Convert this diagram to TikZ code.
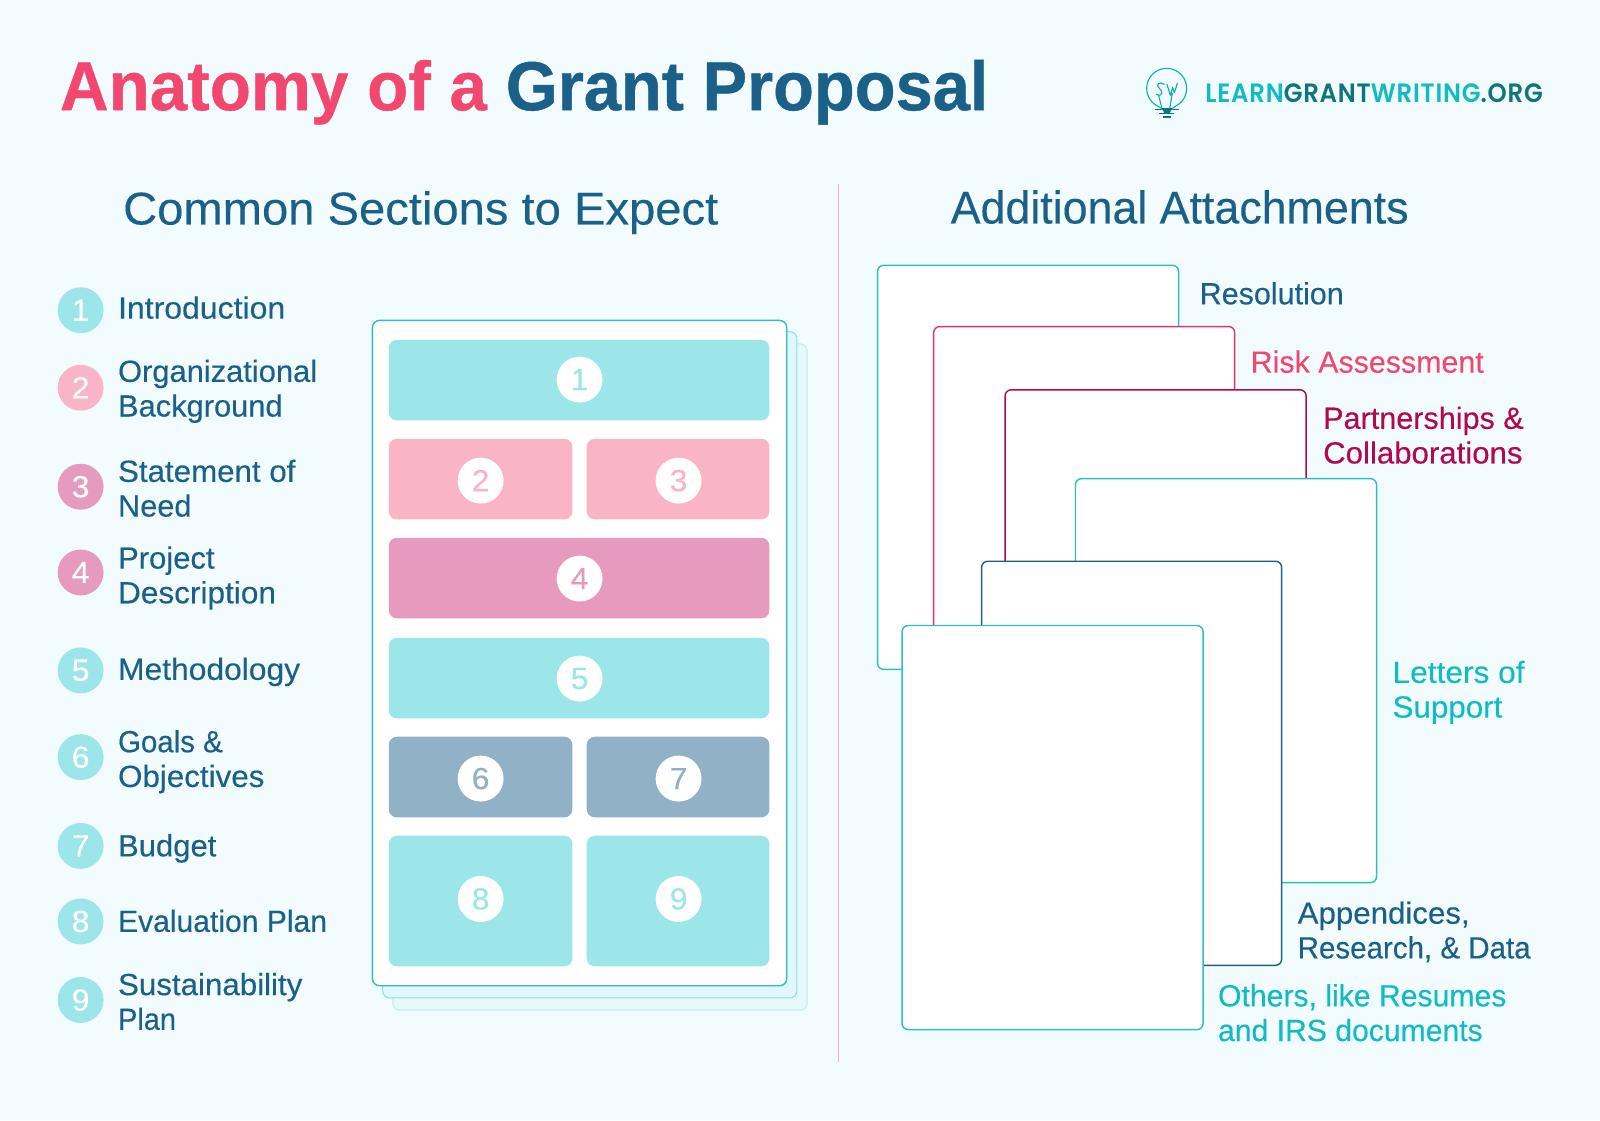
\documentclass[tikz,border=0pt]{standalone}
\usepackage{graphicx}
\usepackage{fontspec}
\setmainfont[FakeStretch=1.045,FakeBold=0.25]{Liberation Sans}
\newfontfamily\titlefont[FakeBold=0.6]{Liberation Sans Bold}
\newfontfamily\logofont[LetterSpace=3,FakeStretch=0.92]{Poppins SemiBold}
\definecolor{bgc}{HTML}{F2FCFE}
\definecolor{ink}{HTML}{1A6088}
\definecolor{rose}{HTML}{F2486F}
\definecolor{wine}{HTML}{B2084F}
\definecolor{aqua}{HTML}{12BBC4}
\definecolor{logodark}{HTML}{0E7480}
\definecolor{bteal}{HTML}{9CE6EA}
\definecolor{bpink}{HTML}{F9B4C6}
\definecolor{bmauve}{HTML}{E59ABE}
\definecolor{bgrey}{HTML}{91B2C6}
\definecolor{sheetline}{HTML}{2BBFC4}
\definecolor{divpink}{HTML}{F6AECB}
\tikzset{
  x=1pt,y=-1pt,
  numdisc/.style={circle,minimum size=45pt,inner sep=0pt,font=\fontsize{30}{34}\selectfont},
  sheet/.style={fill=white,rounded corners=6pt,line width=1.4pt},
  lab/.style={anchor=north west,inner sep=0pt,align=left,font=\fontsize{30}{34}\selectfont},
  head/.style={inner sep=0pt,anchor=base west,font=\fontsize{45}{50}\selectfont,text=ink},
  ttl/.style={inner sep=0pt,anchor=base west,font=\titlefont\fontsize{68}{72}\selectfont},
  logoline/.style={aqua!80!logodark,line width=1.1pt,line cap=round,line join=round},
}
\newcommand{\sx}[2]{\scalebox{#1}[1]{#2}}
\newcommand{\lbl}[5]{\node[lab,text=#4] (#1) at (#2-0.5,#3-31) {\rule{0pt}{30pt}#5};}
\newcommand{\blk}[6]{\fill[#6,rounded corners=8pt] (#2,#3) rectangle (#4,#5) coordinate[pos=.5] (#1);}
\begin{document}
\begin{tikzpicture}
\useasboundingbox (0,0) rectangle (1568,1097.6);
\fill[bgc] (0,0) rectangle (1568,1097.6);
% title
\node[ttl,text=rose] (title1) at (58.5,108) {\sx{0.972}{Anatomy of a}};
\node[ttl,text=ink] (title2) at (495.5,108) {\sx{0.963}{Grant Proposal}};
% logo
\begin{scope}[shift={(1097.6,39.2)},x=0.3267pt,y=-0.3267pt]
  \draw[logoline] (126,206) -- (114.6,199.4) arc[start angle=115,end angle=425,radius=60] -- (156,206);
  \draw[logoline] (133,133) .. controls (120,122) and (104,134) .. (118,145) .. controls (132,154) and (126,172) .. (109,163);
  \draw[logoline] (116,166) -- (126,206) (141,133) -- (151,166) -- (158,142) -- (163,158) -- (172,130) (157,160) -- (149,206);
  \fill[logodark] (126,204) -- (156,204) -- (149,221) -- (133,221) -- cycle;
  \draw[logodark,line width=1.1pt] (106,208) -- (176,208) (118,221) -- (162,221) (128,231) -- (152,231);
\end{scope}
\node[inner sep=0pt,anchor=base west,font=\logofont\fontsize{26}{28}\selectfont] (logo) at (1181,100)
  {\textcolor{aqua}{LEARN}\textcolor{logodark}{GRANT}\textcolor{aqua}{WRITING}\textcolor{logodark}{.ORG}};
% headings and divider
\node[head] (hleft) at (120.5,220) {\sx{0.983}{Common Sections to Expect}};
\node[head] (hright) at (931.5,219) {\sx{0.933}{Additional Attachments}};
\coordinate (divtop) at (821.7,180);
\coordinate (divbot) at (821.7,1041);
\draw[draw=divpink,line width=1.3pt] (divtop) -- (divbot);
% list
\node[numdisc,fill=bteal,text=white] (c1) at (79,304) {1};
\node[numdisc,fill=bpink,text=white] (c2) at (79,380) {2};
\node[numdisc,fill=bmauve,text=white] (c3) at (79,477) {3};
\node[numdisc,fill=bmauve,text=white] (c4) at (79,561) {4};
\node[numdisc,fill=bteal,text=white] (c5) at (79,657) {5};
\node[numdisc,fill=bteal,text=white] (c6) at (79,742) {6};
\node[numdisc,fill=bteal,text=white] (c7) at (79,829) {7};
\node[numdisc,fill=bteal,text=white] (c8) at (79,903) {8};
\node[numdisc,fill=bteal,text=white] (c9) at (79,980) {9};
\lbl{t1}{116}{313}{ink}{Introduction}
\lbl{t2}{116}{375}{ink}{\sx{.965}{Organizational}\\\sx{.964}{Background}}
\lbl{t3}{116}{473}{ink}{\sx{.978}{Statement of}\\\sx{.96}{Need}}
\lbl{t4}{116}{558}{ink}{\sx{.97}{Project}\\\sx{.987}{Description}}
\lbl{t5}{116}{667}{ink}{\sx{.994}{Methodology}}
\lbl{t6}{116}{738}{ink}{\sx{.92}{Goals \&}\\\sx{.98}{Objectives}}
\lbl{t7}{116}{840}{ink}{\sx{.97}{Budget}}
\lbl{t8}{116}{914}{ink}{\sx{.94}{Evaluation Plan}}
\lbl{t9}{116}{976}{ink}{\sx{.978}{Sustainability}\\\sx{.905}{Plan}}
% page stack
\draw[draw=sheetline!25!bgc,fill=bteal!15!bgc,rounded corners=7pt,line width=1pt] (385,337) rectangle (791,990);
\draw[draw=sheetline!50!bgc,fill=bteal!20!bgc,rounded corners=7pt,line width=1pt] (375,325) rectangle (781,978);
\draw[draw=sheetline,fill=white,rounded corners=7pt,line width=1.4pt] (365,314) rectangle (771,966);
\blk{b1}{381}{333}{754}{412}{bteal}
\blk{b2}{381}{430}{561}{509}{bpink}
\blk{b3}{575}{430}{754}{509}{bpink}
\blk{b4}{381}{527}{754}{606}{bmauve}
\blk{b5}{381}{625}{754}{704}{bteal}
\blk{b6}{381}{722}{561}{801}{bgrey}
\blk{b7}{575}{722}{754}{801}{bgrey}
\blk{b8}{381}{819}{561}{947}{bteal}
\blk{b9}{575}{819}{754}{947}{bteal}
\node[numdisc,fill=white,text=bteal] (n1) at (568,372) {1};
\node[numdisc,fill=white,text=bpink] (n2) at (471,471) {2};
\node[numdisc,fill=white,text=bpink] (n3) at (665,471) {3};
\node[numdisc,fill=white,text=bmauve] (n4) at (568,567) {4};
\node[numdisc,fill=white,text=bteal] (n5) at (568,665) {5};
\node[numdisc,fill=white,text=bgrey] (n6) at (471,763) {6};
\node[numdisc,fill=white,text=bgrey] (n7) at (665,763) {7};
\node[numdisc,fill=white,text=bteal] (n8) at (471,881) {8};
\node[numdisc,fill=white,text=bteal] (n9) at (665,881) {9};
% attachment sheets
\draw[sheet,draw=sheetline] (860,260) rectangle (1155,656);
\draw[sheet,draw=rose!70!wine] (915,320) rectangle (1210,716);
\draw[sheet,draw=wine] (985,382) rectangle (1280,778);
\draw[sheet,draw=sheetline] (1054,469) rectangle (1349,865);
\draw[sheet,draw=ink] (962,550) rectangle (1256,946);
\draw[sheet,draw=sheetline] (884,613) rectangle (1179,1009);
\lbl{a1}{1176}{299}{ink}{\sx{.953}{Resolution}}
\lbl{a2}{1226}{366}{rose}{\sx{.95}{Risk Assessment}}
\lbl{a3}{1297}{421}{wine}{\sx{.956}{Partnerships \&}\\\sx{.975}{Collaborations}}
\lbl{a4}{1365}{670}{aqua}{\sx{.99}{Letters of}\\\sx{.98}{Support}}
\lbl{a5}{1272}{906}{ink}{\sx{.977}{Appendices,}\\\sx{.923}{Research, \& Data}}
\lbl{a6}{1194}{987}{aqua}{\sx{.943}{Others, like Resumes}\\\sx{.942}{and IRS documents}}
\end{tikzpicture}
\end{document}
